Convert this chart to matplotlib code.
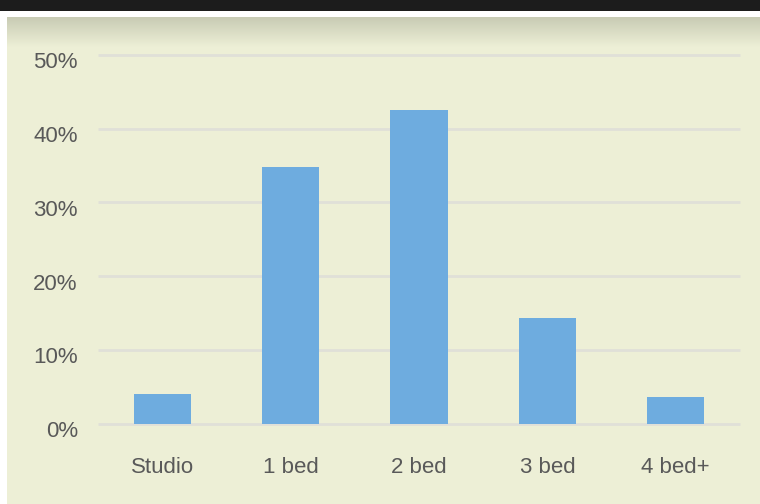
import matplotlib
matplotlib.use("Agg")
import matplotlib.pyplot as plt
import matplotlib.transforms as mtrans
import numpy as np
from matplotlib.patches import Rectangle

categories = ["Studio", "1 bed", "2 bed", "3 bed", "4 bed+"]
shares = [4.0, 34.8, 42.6, 14.3, 3.6]
yticks = [0, 10, 20, 30, 40, 50]
ytick_labels = ["0%", "10%", "20%", "30%", "40%", "50%"]

W, H = 760, 504
fig = plt.figure(figsize=(W / 100, H / 100), dpi=100, facecolor="white")

bg = "#edefd6"
# dark top band
fig.patches.append(Rectangle((0, 1 - 11 / H), 1, 11 / H, transform=fig.transFigure,
                             facecolor="#1c1c1c", edgecolor="none", zorder=-10))
# panel
fig.patches.append(Rectangle((7 / W, 0), 1 - 7 / W, 1 - 17 / H, transform=fig.transFigure,
                             facecolor=bg, edgecolor="none", zorder=-10))
# top shadow gradient
gax = fig.add_axes([7 / W, 1 - 47 / H, 1 - 7 / W, 30 / H], zorder=-5)
gax.set_axis_off()
top = np.array([200, 203, 180]) / 255
bot = np.array([237, 239, 214]) / 255
t = np.linspace(0, 1, 60)[:, None]
grad = (top[None, :] * (1 - t) + bot[None, :] * t)
grad = np.repeat(grad[:, None, :], 2, axis=1)
gax.imshow(grad, aspect="auto", extent=[0, 1, 0, 1], origin="upper")
gax.set_xlim(0, 1)
gax.set_ylim(0, 1)

# main axes
left, right = 98 / W, 740 / W
y0 = 423.5
y50 = 55.0
ax = fig.add_axes([left, 1 - y0 / H, right - left, (y0 - y50) / H], zorder=1)
ax.set_facecolor("none")
x = np.arange(len(categories))
ax.bar(x, shares, width=0.445, color="#6eacdf", zorder=3)
ax.set_xlim(-0.5, len(categories) - 0.5)
ax.set_ylim(0, 50)
ax.set_yticks(yticks)
ax.set_yticklabels(ytick_labels)
ax.set_xticks(x)
ax.set_xticklabels(categories)
for s in ax.spines.values():
    s.set_visible(False)
ax.tick_params(axis="both", length=0, labelsize=16, labelcolor="#595959")
ax.tick_params(axis="y", pad=14.5)
ax.tick_params(axis="x", pad=24)
for lab in ax.get_xticklabels() + ax.get_yticklabels():
    lab.set_fontfamily("Liberation Sans")
offset = mtrans.ScaledTranslation(0, -5.5 / 100, fig.dpi_scale_trans)
for lab in ax.get_yticklabels():
    lab.set_transform(lab.get_transform() + offset)
ax.yaxis.grid(True, color="#e0e0d8", linewidth=2, zorder=0, solid_capstyle="butt")
for gl in ax.get_ygridlines():
    gl.set_clip_on(False)
ax.set_axisbelow(True)

fig.savefig("out.png", dpi=100, facecolor="white")
